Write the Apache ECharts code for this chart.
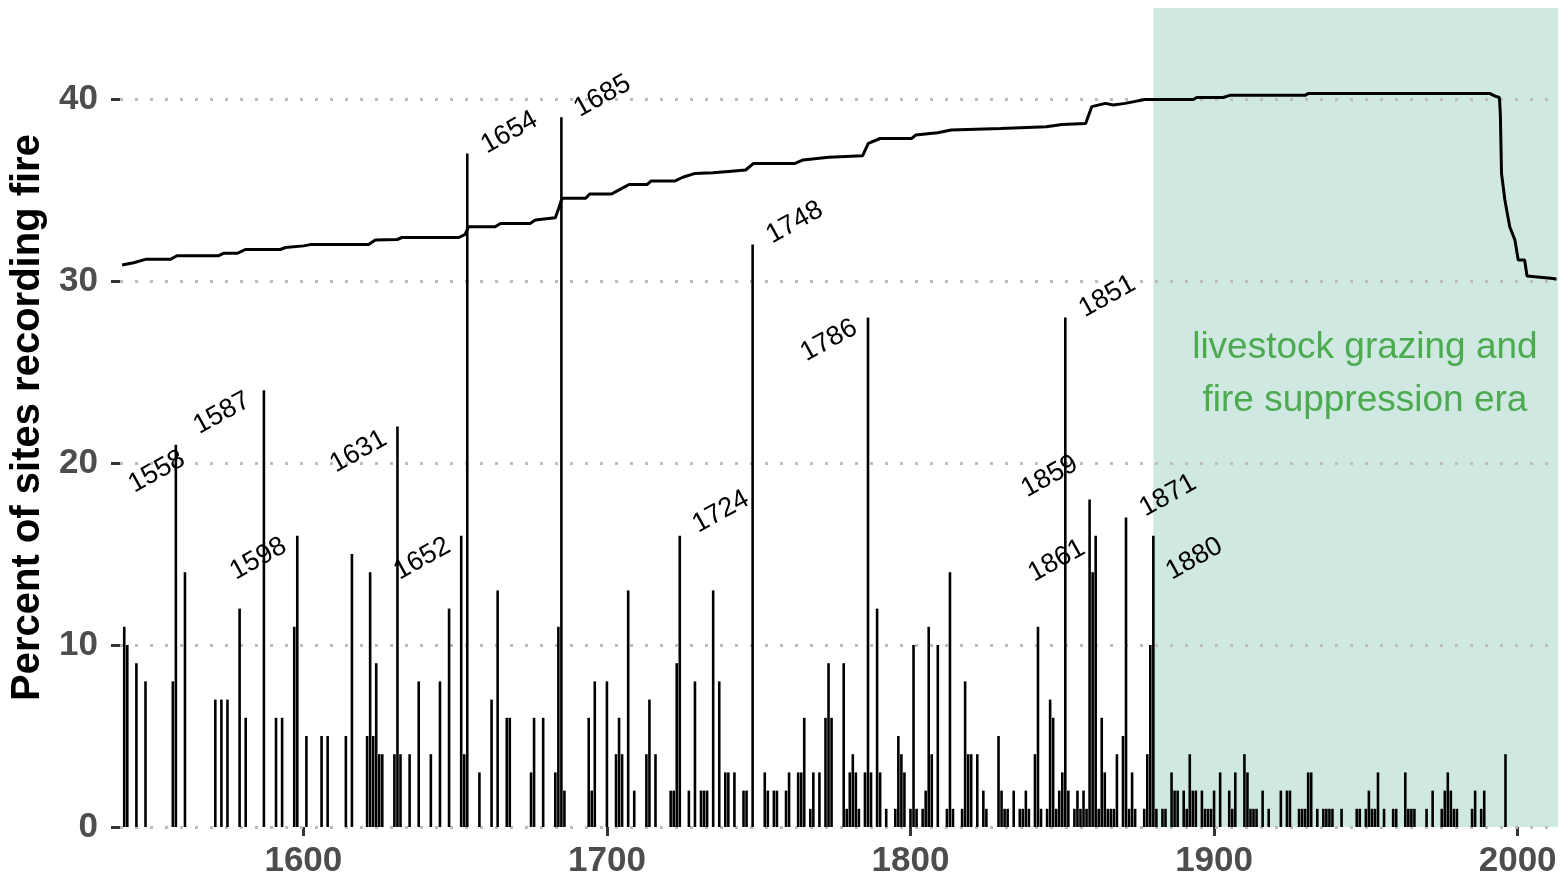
<!DOCTYPE html>
<html><head><meta charset="utf-8">
<script src="https://cdn.jsdelivr.net/npm/echarts@6/dist/echarts.min.js"></script>
<style>html,body{margin:0;padding:0;background:#fff}#c{width:1564px;height:877px}</style>
</head><body><div id="c"></div>
<script>
// ---- data ----
const fireYears = [1541,1542,1545,1548,1557,1558,1561,1571,1573,1575,1579,1581,1587,1591,1593,1597,1598,
1601,1606,1608,1614,1616,1621,1622,1623,1624,1625,1626,1630,1631,1632,1635,1638,1642,1645,1648,1652,1653,1654,1658,1662,1664,1667,1668,1675,1676,1679,1683,1684,1685,1686,1694,1695,1696,
1700,1703,1704,1705,1707,1709,1713,1714,1716,1721,1722,1723,1724,1727,1729,1731,1732,1733,1735,1737,1739,1740,1742,1745,1746,1748,1752,1753,1755,1756,1759,1760,1763,1764,1765,1767,1768,1770,1772,1773,1774,1778,1779,1780,1781,1782,1783,1785,1786,1787,1789,1790,1792,1795,1796,1797,1798,
1800,1801,1802,1804,1805,1806,1807,1809,1812,1813,1814,1817,1818,1819,1820,1822,1824,1825,1829,1830,1831,1832,1834,1836,1837,1838,1839,1841,1842,1843,1845,1846,1847,1848,1849,1850,1851,1852,1854,1855,1856,1857,1858,1859,1860,1861,1862,1863,1864,1865,1866,1867,1868,1870,1871,1872,1873,1874,1877,1878,1879,1880,1881,1883,1884,1886,1887,1888,1890,1891,1892,1893,1894,1896,1897,1898,1899,
1900,1902,1905,1906,1907,1910,1911,1912,1913,1914,1916,1918,1922,1924,1925,1928,1929,1930,1931,1932,1934,1936,1937,1938,1939,1942,1947,1948,1950,1951,1952,1953,1954,1956,1959,1960,1963,1964,1965,1966,1970,1972,1975,1976,1977,1978,1979,1980,1985,1986,1988,1989,1996];
const fireValues = [11,10,9,8,8,21,14,7,7,7,12,6,24,6,6,11,16,
5,5,5,5,15,5,14,5,9,4,4,4,22,4,4,8,4,8,12,16,4,37,3,7,13,6,6,3,6,6,3,11,39,2,6,2,8,
8,4,6,4,13,2,4,7,4,2,2,9,16,2,8,2,2,2,13,8,3,3,3,2,2,32,3,2,2,2,2,3,3,3,6,1,3,3,6,9,6,9,1,3,4,3,1,3,28,3,12,3,1,1,5,4,3,
1,10,1,1,2,11,4,10,1,14,1,1,8,4,4,4,2,1,5,2,1,1,2,1,1,2,1,4,11,1,1,7,6,1,2,3,28,2,1,2,1,2,1,18,14,16,1,6,3,1,1,1,4,5,17,1,3,1,1,4,10,16,1,1,1,3,2,2,2,1,4,2,2,2,1,1,1,
2,3,2,1,3,4,3,1,1,1,2,1,2,2,2,1,1,1,3,3,1,1,1,1,1,1,1,1,1,2,1,1,3,1,1,1,3,1,1,1,1,2,1,2,3,2,1,1,1,2,1,2,4];
const depthYears = [1540.3,1544.1,1548.0,1556.2,1558.4,1572.1,1573.7,1578.2,1580.9,1592.4,1594.1,1600.1,1602.3,1621.5,1623.7,1630.9,1632.5,1651.2,1653.3,1654.4,1663.2,1664.9,1674.7,1676.4,1683.0,1684.1,1685.2,1693.0,1694.3,1701.5,1704.5,1707.3,1713.2,1714.5,1722.3,1725.0,1728.8,1735.0,1740.0,1745.7,1748.3,1762.0,1764.6,1773.1,1784.2,1786.1,1790.0,1800.4,1801.7,1808.9,1813.4,1829.7,1844.7,1849.9,1857.7,1859.7,1864.2,1866.8,1870.7,1877.2,1893.2,1894.3,1903.0,1905.2,1930.0,1931.0,1990.9,1992.6,1994.0,1994.3,1994.7,1995.8,1997.4,1999.1,2000.2,2002.3,2003.1,2011.7,2012.8];
const depthValues = [30.88,31.0,31.19,31.19,31.39,31.39,31.52,31.52,31.73,31.73,31.84,31.93,32.0,32.0,32.25,32.28,32.39,32.39,32.56,32.98,32.98,33.16,33.16,33.35,33.48,33.98,34.55,34.55,34.78,34.78,35.05,35.3,35.3,35.49,35.49,35.7,35.9,35.95,36.02,36.1,36.46,36.46,36.65,36.8,36.88,37.56,37.83,37.83,38.02,38.15,38.3,38.38,38.47,38.6,38.65,39.58,39.76,39.67,39.76,39.97,39.97,40.08,40.08,40.2,40.2,40.3,40.3,40.16,40.08,39.2,35.9,34.45,32.98,32.25,31.15,31.15,30.27,30.14,30.1];
const labeledYears = [1558,1587,1598,1631,1652,1654,1685,1724,1748,1786,1851,1859,1861,1871,1880];
const xTickValues = [1600,1700,1800,1900,2000];
const yTickValues = [0,10,20,30,40];
const eraStart = 1880;
const eraText = 'livestock grazing and\nfire suppression era';
const eraTextAt = [1949.7, 24.9];
const yTitle = 'Percent of sites recording fire';

// ---- layout / styling (kept apart from data) ----
const X_MIN = 1539.6, X_MAX = 2013.3, Y_MAX = 45;
const labelOffsets = {1558:[-19,27],1587:[-42,23],1598:[-39,23],1631:[-39,25],1652:[-39,23],1654:[42,-21],1685:[41,-21],
  1724:[41,-24],1748:[42,-22],1786:[-39,23],1851:[42,-21],1859:[-40,-23],1861:[-39,25],1871:[42,-22],1880:[41,23]};
const LABEL_ANGLE = 29 * Math.PI / 180;
const FONT = '"Liberation Sans", Arial, sans-serif';

const barData = fireYears.map((y, i) => [y, fireValues[i]]);
const lineData = depthYears.map((y, i) => [y, depthValues[i]]);
const labelData = labeledYears.map(y => [y, fireValues[fireYears.indexOf(y)]]);

const chart = echarts.init(document.getElementById('c'), null, {renderer: 'canvas'});
chart.setOption({
  animation: false,
  backgroundColor: '#ffffff',
  grid: {left: 120, right: 6, top: 8, bottom: 50, containLabel: false, outerBoundsMode: 'none'},
  xAxis: {
    type: 'value', min: X_MIN, max: X_MAX,
    axisLine: {show: false},
    splitLine: {show: false},
    axisTick: {show: true, customValues: xTickValues, length: 9, lineStyle: {color: '#333', width: 3}},
    axisLabel: {customValues: xTickValues, formatter: v => String(Math.round(v)), margin: 17,
      color: '#4d4d4d', fontSize: 35, fontWeight: 'bold', fontFamily: FONT}
  },
  yAxis: {
    type: 'value', min: 0, max: Y_MAX,
    axisLine: {show: false},
    splitLine: {show: false},
    axisTick: {show: true, customValues: yTickValues, length: 9, lineStyle: {color: '#333', width: 3}},
    axisLabel: {customValues: yTickValues, formatter: v => String(Math.round(v)), margin: 22,
      color: '#4d4d4d', fontSize: 35, fontWeight: 'bold', fontFamily: FONT},
    name: yTitle, nameLocation: 'middle', nameGap: 72, nameRotate: 90,
    nameTextStyle: {color: '#000', fontSize: 40, fontWeight: 'bold', fontFamily: FONT}
  },
  series: [
    {
      type: 'line', data: [], z: 0, silent: true,
      markArea: {silent: true, z: 0, itemStyle: {color: '#d0e8e2'}, data: [[{xAxis: eraStart, yAxis: 0}, {xAxis: X_MAX, yAxis: Y_MAX}]]},
      markLine: {silent: true, z: 1, symbol: 'none', label: {show: false},
        lineStyle: {color: '#bdbdbd', width: 3, type: [3, 12], cap: 'butt'},
        data: yTickValues.map(v => ({yAxis: v}))}
    },
    {
      type: 'bar', data: barData, barWidth: 2.6, z: 2, silent: true,
      itemStyle: {color: '#000'}
    },
    {
      type: 'line', data: lineData, z: 3, silent: true, showSymbol: false, symbol: 'none',
      lineStyle: {color: '#000', width: 3}
    },
    {
      type: 'custom', data: labelData, z: 4, silent: true,
      renderItem: (params, api) => {
        const yr = api.value(0);
        const p = api.coord([yr, api.value(1)]);
        const off = labelOffsets[yr] || [0, 0];
        return {
          type: 'text', x: p[0] + off[0], y: p[1] + off[1], rotation: LABEL_ANGLE,
          style: {text: String(yr), fill: '#000', font: '27px ' + FONT,
            align: 'center', verticalAlign: 'middle', textAlign: 'center', textVerticalAlign: 'middle'}
        };
      }
    },
    {
      type: 'scatter', data: [eraTextAt], z: 4, silent: true, symbolSize: 0,
      label: {show: true, position: 'inside', formatter: eraText, color: '#2b9a2b',
        fontSize: 37, lineHeight: 53, fontFamily: FONT, align: 'center', verticalAlign: 'middle'}
    }
  ]
});
</script>
</body></html>
